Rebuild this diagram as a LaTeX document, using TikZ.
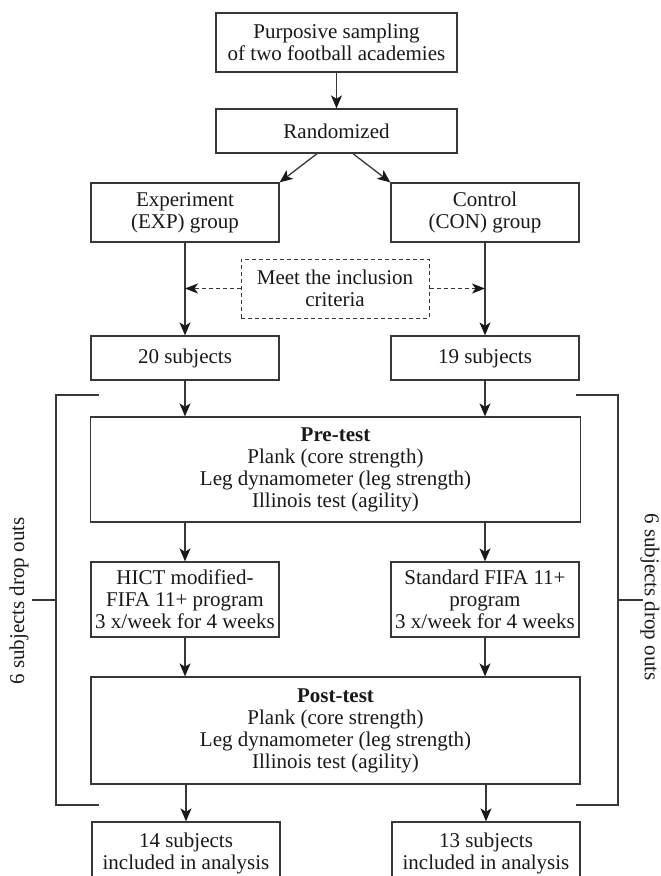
\documentclass[tikz,border=0pt]{standalone}
\usepackage{fontspec}
\setmainfont{Liberation Serif}
\usetikzlibrary{arrows.meta,calc}
\definecolor{lc}{RGB}{55,55,55}
\definecolor{tc}{RGB}{25,25,25}
\begin{document}
\begin{tikzpicture}[x=1pt,y=-1pt,
  txt/.style={font=\fontsize{21}{22}\selectfont, text=tc},
  box/.style={txt, draw=lc, line width=1.3pt, rectangle, inner sep=0pt, align=center},
  dbox/.style={txt, draw=lc, line width=1pt, dash pattern=on 4pt off 3pt, rectangle, inner sep=0pt, align=center},
  arr/.style={draw=lc, line width=1.3pt, -{Stealth[length=13pt,width=11pt,inset=3.5pt,color=tc]}},
  darr/.style={draw=lc, line width=1pt, dash pattern=on 4pt off 3pt, -{Stealth[length=13pt,width=10pt,inset=3.5pt,color=tc]}},
  brk/.style={draw=lc, line width=1.3pt},
]
\clip (0,0) rectangle (661,876);
\fill[white] (0,0) rectangle (661,876);

\node[box, minimum width=241pt, minimum height=59pt] (top) at (336.5,42.5) {Purposive sampling\\of two football academies};
\node[box, minimum width=241pt, minimum height=44pt] (rand) at (336.5,131) {Randomized};
\node[box, minimum width=188pt, minimum height=59pt] (exp) at (185,212.5) {Experiment\\(EXP) group};
\node[box, minimum width=188pt, minimum height=59pt] (con) at (485,212.5) {Control\\(CON) group};
\node[dbox, minimum width=188pt, minimum height=59pt] (incl) at (335,288.5) {Meet the inclusion\\criteria};
\node[box, minimum width=188pt, minimum height=44pt] (s20) at (185,358) {20 subjects};
\node[box, minimum width=188pt, minimum height=44pt] (s19) at (485,358) {19 subjects};
\node[box, minimum width=490pt, minimum height=105pt] (pre) at (335.5,469.5) {\textbf{Pre-test}\\Plank (core strength)\\Leg dynamometer (leg strength)\\Illinois test (agility)};
\node[box, minimum width=188pt, minimum height=75pt] (hict) at (185,599.5) {HICT modified-\\FIFA 11+ program\\3 x/week for 4 weeks};
\node[box, minimum width=188pt, minimum height=75pt] (fifa) at (485,599.5) {Standard FIFA 11+\\program\\3 x/week for 4 weeks};
\node[box, minimum width=489pt, minimum height=107pt] (post) at (335.5,730.5) {\textbf{Post-test}\\Plank (core strength)\\Leg dynamometer (leg strength)\\Illinois test (agility)};
\node[box, minimum width=188pt, minimum height=62pt] (b14) at (186,853) {14 subjects\\included in analysis};
\node[box, minimum width=188pt, minimum height=62pt] (b13) at (486,853) {13 subjects\\included in analysis};

% connectors
\draw[arr] (top) -- (rand);
\coordinate (rl) at ($(rand.south)+(-19.5,0)$);
\coordinate (rr) at ($(rand.south)+(16.5,0)$);
\draw[arr] (rl) -- (exp.north east);
\draw[arr] (rr) -- (con.north west);
\draw[arr] (exp) -- (s20);
\draw[arr] (con) -- (s19);
\draw[darr] (incl.west) -- (incl.west -| exp.south);
\draw[darr] (incl.east) -- (incl.east -| con.south);
\draw[arr] (s20) -- (s20 |- pre.north);
\draw[arr] (s19) -- (s19 |- pre.north);
\draw[arr] (hict |- pre.south) -- (hict);
\draw[arr] (fifa |- pre.south) -- (fifa);
\draw[arr] (hict) -- (hict |- post.north);
\draw[arr] (fifa) -- (fifa |- post.north);
\draw[arr] (b14.north |- post.south) -- (b14.north);
\draw[arr] (b13.north |- post.south) -- (b13.north);

% brackets
\coordinate (lt) at (99,395); \coordinate (lb) at (99,805);
\coordinate (rt) at (576,395); \coordinate (rb) at (576,805);
\draw[brk] (lt) -- (56,395) -- (56,805) -- (lb);
\draw[brk] (rt) -- (618,395) -- (618,805) -- (rb);
\coordinate (lm) at (56,600); \coordinate (rm) at (618,600);
\draw[brk] (lm) -- (32,600);
\draw[brk] (rm) -- (643,600);
\node[txt, rotate=90, inner sep=0pt] (ltxt) at (19,601) {6 subjects drop outs};
\node[txt, rotate=-90, inner sep=0pt] (rtxt) at (650,597) {6 subjects drop outs};
\end{tikzpicture}
\end{document}
